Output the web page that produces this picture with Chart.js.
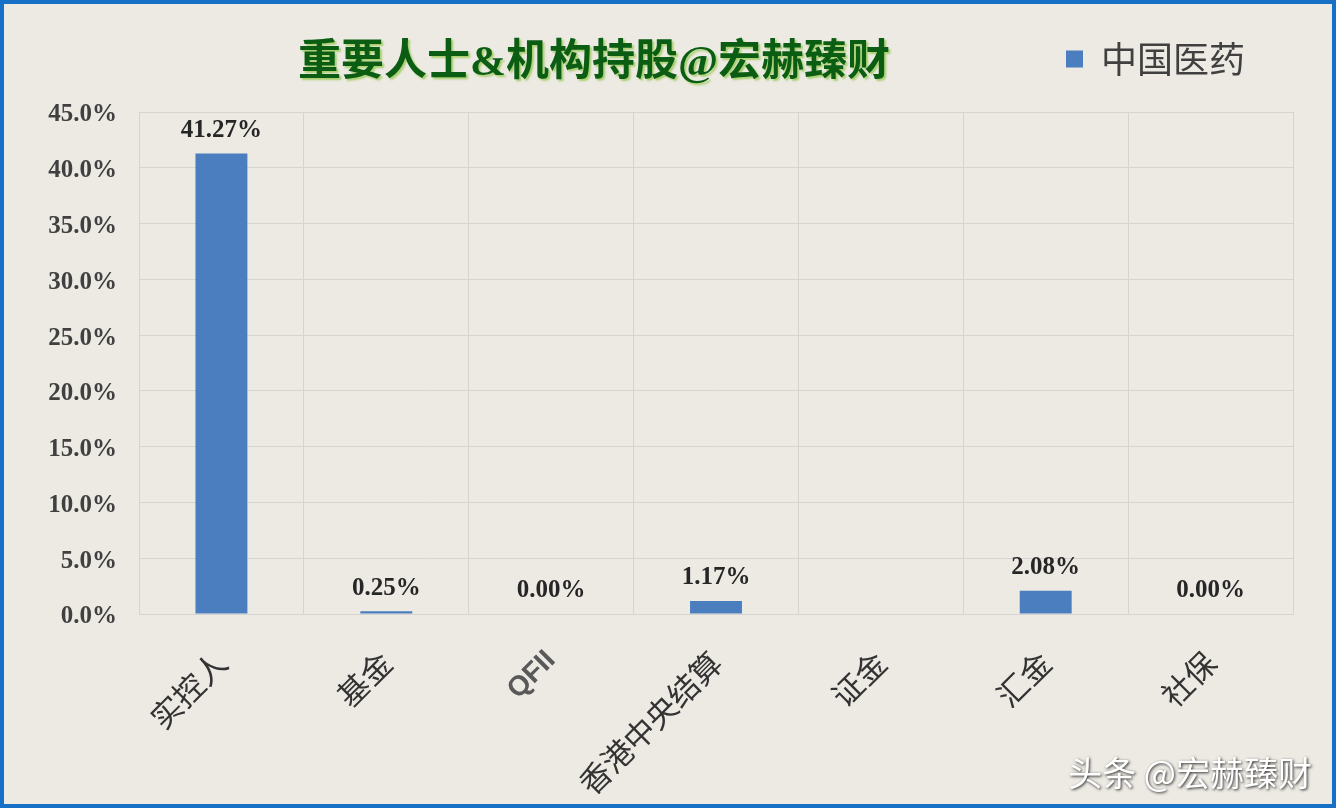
<!DOCTYPE html>
<html>
<head>
<meta charset="utf-8">
<script src="https://cdn.jsdelivr.net/npm/chart.js@4.4.0/dist/chart.umd.min.js"></script>
<style>
  html, body { margin: 0; padding: 0; background: #edeae4; }
  #wrapper { width: 1336px; height: 808px; box-sizing: border-box; border: 4px solid #1670c6; background: #edeae4; }
  canvas { display: block; }
</style>
</head>
<body>
<div id="wrapper"><canvas id="bar-chart" width="1328" height="800"></canvas></div>
<script>
var categories = ["实控人", "基金", "QFII", "香港中央结算", "证金", "汇金", "社保"];
var holdings = [41.27, 0.25, 0.00, 1.17, null, 2.08, 0.00];
var seriesName = "中国医药";
var chartTitle = "重要人士&机构持股@宏赫臻财";
var watermark = "头条 @宏赫臻财";

var gridColor = "#d6d4d0";

// value labels above each bar (证金 has none)
var valueLabels = {
  id: "valueLabels",
  afterDatasetsDraw: function(chart) {
    var ctx = chart.ctx;
    var meta = chart.getDatasetMeta(0);
    ctx.save();
    ctx.font = 'bold 25px "Liberation Serif"';
    ctx.fillStyle = "#262626";
    ctx.textAlign = "center";
    ctx.textBaseline = "middle";
    meta.data.forEach(function(bar, i) {
      var v = holdings[i];
      if (v === null) return;
      ctx.fillText(v.toFixed(2) + "%", bar.x, bar.y - 23);
    });
    ctx.restore();
  }
};

// more room under the legend, and pull it in a bit from the right
var legendTweak = {
  id: "legendTweak",
  beforeLayout: function(chart) {
    var lg = chart.legend;
    if (lg && !lg._patched) {
      var fit = lg.fit;
      lg.fit = function() { fit.call(this); this.height += 25; };
      lg._patched = true;
    }
  },
  afterLayout: function(chart) {
    if (chart.legend) chart.legend.right -= 12;
  }
};

// title sits in the same row as the legend, so draw it here
var titleAndMark = {
  id: "titleAndMark",
  afterDraw: function(chart) {
    var ctx = chart.ctx;
    ctx.save();
    ctx.font = 'bold 43px "Liberation Serif", "Noto Sans CJK SC"';
    ctx.textAlign = "center";
    ctx.textBaseline = "middle";
    ctx.shadowColor = "rgba(150,200,80,0.8)";
    ctx.shadowOffsetX = 2;
    ctx.shadowOffsetY = 2;
    ctx.shadowBlur = 2;
    ctx.fillStyle = "#0b5d14";
    ctx.fillText(chartTitle, 590, 60);

    ctx.font = '34px "Noto Sans CJK SC"';
    ctx.textAlign = "right";
    ctx.shadowColor = "rgba(0,0,0,0.85)";
    ctx.shadowOffsetX = 1;
    ctx.shadowOffsetY = 1;
    ctx.shadowBlur = 3;
    ctx.fillStyle = "#ffffff";
    ctx.fillText(watermark, 1308, 769);
    ctx.restore();
  }
};

var chart = new Chart(document.getElementById("bar-chart"), {
  type: "bar",
  data: {
    labels: categories,
    datasets: [{
      label: seriesName,
      data: holdings,
      backgroundColor: "#4a7ebf",
      borderWidth: 0,
      categoryPercentage: 1.0,
      barPercentage: 0.315
    }]
  },
  options: {
    responsive: false,
    animation: false,
    layout: { padding: { top: 1, right: 39, left: 0, bottom: 0 } },
    plugins: {
      title: { display: false },
      tooltip: { enabled: false },
      legend: {
        display: true,
        position: "top",
        align: "end",
        labels: {
          boxWidth: 17,
          boxHeight: 17,
          padding: 36,
          color: "#404040",
          font: { family: '"Noto Sans CJK SC"', size: 36 }
        }
      }
    },
    scales: {
      x: {
        grid: { color: gridColor, drawTicks: false, offset: true },
        border: { color: gridColor },
        afterFit: function(scale) { scale.height = 190; },
        ticks: {
          autoSkip: false,
          minRotation: 45,
          maxRotation: 45,
          padding: 30,
          color: function(c) { return categories[c.index] === "QFII" ? "#595959" : "#333333"; },
          font: function(c) {
            if (categories[c.index] === "QFII") {
              return { family: '"Liberation Sans"', size: 28, weight: "bold" };
            }
            return { family: '"Noto Sans CJK SC"', size: 31 };
          }
        }
      },
      y: {
        min: 0,
        max: 45,
        grid: { color: gridColor, drawTicks: false },
        border: { color: gridColor },
        afterFit: function(scale) { scale.width = 135; },
        ticks: {
          stepSize: 5,
          padding: 22,
          labelOffset: 3,
          color: "#404040",
          font: { family: '"Liberation Serif"', size: 25, weight: "bold" },
          callback: function(v) { return v.toFixed(1) + "%"; }
        }
      }
    }
  },
  plugins: [legendTweak, valueLabels, titleAndMark]
});
</script>
</body>
</html>
